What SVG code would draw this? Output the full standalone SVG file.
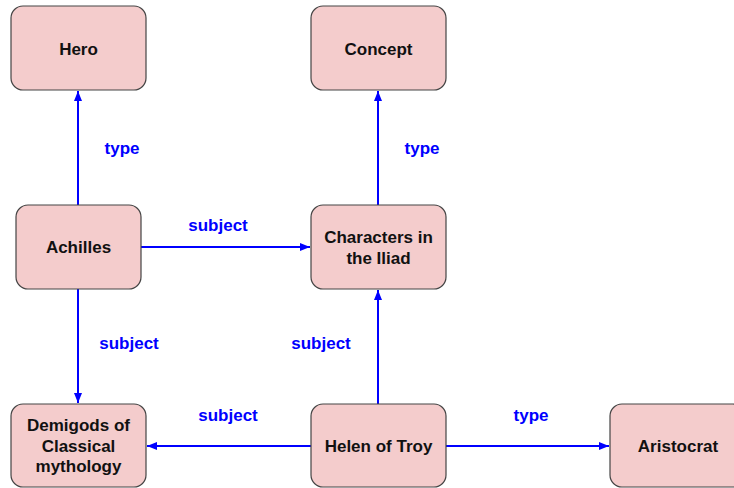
<svg xmlns="http://www.w3.org/2000/svg" width="734" height="488" viewBox="0 0 734 488">
<style>
.node rect{fill:#f4cccc;stroke:#444;stroke-width:1.2}
.node text{font-family:"Liberation Sans",Arial,sans-serif;font-weight:bold;font-size:17px;fill:#111;text-anchor:middle}
.edge{stroke:#0000ff;stroke-width:2;fill:none;marker-end:url(#ah)}
.lbl{font-family:"Liberation Sans",Arial,sans-serif;font-weight:bold;font-size:17px;fill:#0000ff;text-anchor:middle}
</style>
<defs>
<marker id="ah" markerWidth="10" markerHeight="8" refX="10" refY="4" orient="auto" markerUnits="userSpaceOnUse">
<path d="M0,0 L10,4 L0,8 Z" fill="#0000ff"/>
</marker>
</defs>
<rect width="734" height="488" fill="#fff"/>
<g id="connectors">
<line class="edge" x1="78" y1="205" x2="78" y2="91"/>
<line class="edge" x1="378" y1="205" x2="378" y2="91"/>
<line class="edge" x1="141" y1="247" x2="310" y2="247"/>
<line class="edge" x1="78" y1="289" x2="78" y2="403"/>
<line class="edge" x1="378" y1="404" x2="378" y2="290"/>
<line class="edge" x1="311" y1="446" x2="147" y2="446"/>
<line class="edge" x1="446" y1="446" x2="609" y2="446"/>
<text class="lbl" x="122" y="154">type</text>
<text class="lbl" x="422" y="154">type</text>
<text class="lbl" x="218" y="231">subject</text>
<text class="lbl" x="129" y="349">subject</text>
<text class="lbl" x="321" y="349">subject</text>
<text class="lbl" x="228" y="421">subject</text>
<text class="lbl" x="531" y="421">type</text>
</g>
<g id="hero" class="node"><rect x="11" y="6" width="135" height="84" rx="12"/><text x="78.5" y="55">Hero</text></g>
<g id="concept" class="node"><rect x="311" y="6" width="135" height="84" rx="12"/><text x="378.5" y="55">Concept</text></g>
<g id="achilles" class="node"><rect x="16" y="205" width="125" height="84" rx="12"/><text x="78.5" y="253">Achilles</text></g>
<g id="characters" class="node"><rect x="311" y="205" width="135" height="84" rx="12"/><text x="378.5" y="243">Characters in</text><text x="378.5" y="264">the Iliad</text></g>
<g id="demigods" class="node"><rect x="11" y="404" width="135" height="83" rx="12"/><text x="78.5" y="431">Demigods of</text><text x="78.5" y="452">Classical</text><text x="78.5" y="472">mythology</text></g>
<g id="helen" class="node"><rect x="311" y="404" width="135" height="83" rx="12"/><text x="378.5" y="452">Helen of Troy</text></g>
<g id="aristocrat" class="node"><rect x="610" y="404" width="135" height="83" rx="12"/><text x="678" y="452">Aristocrat</text></g>
</svg>
